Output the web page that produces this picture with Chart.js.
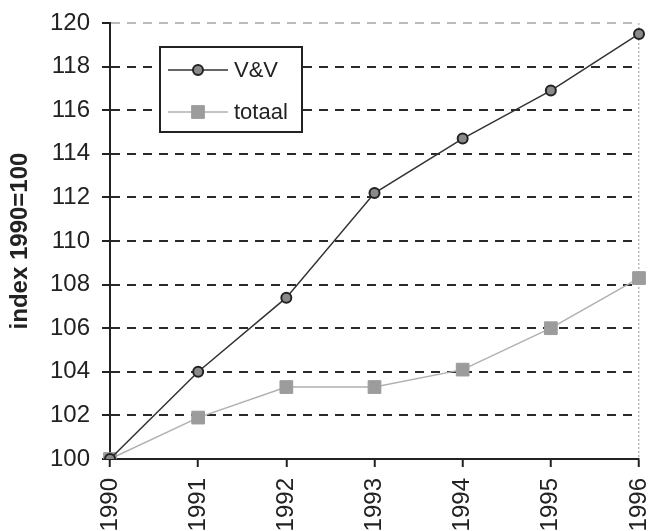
<!DOCTYPE html>
<html>
<head>
<meta charset="utf-8">
<script src="https://cdn.jsdelivr.net/npm/chart.js@4/dist/chart.umd.min.js"></script>
<style>
  body { margin: 0; background: #fff; }
  #wrap { width: 649px; height: 531px; position: relative; }
</style>
</head>
<body>
<div id="wrap"><canvas id="lineChart"></canvas></div>
<script>
// data
const years = ["1990", "1991", "1992", "1993", "1994", "1995", "1996"];
const vvValues = [100, 104.0, 107.4, 112.2, 114.7, 116.9, 119.5];
const totaalValues = [100, 101.9, 103.3, 103.3, 104.1, 106.0, 108.3];
const yTicks = [100, 102, 104, 106, 108, 110, 112, 114, 116, 118, 120];

const FONT = "'Liberation Sans', Arial, sans-serif";

// legend box drawn inside the plot, like the original
const boxLegend = {
  id: "boxLegend",
  afterDatasetsDraw(chart) {
    const ctx = chart.ctx;
    const area = chart.chartArea;
    const x = area.left + 50;
    const y = area.top + 24;
    const w = 142;
    const h = 85;
    ctx.save();
    ctx.fillStyle = "#fff";
    ctx.fillRect(x, y, w, h);
    ctx.lineWidth = 2;
    ctx.strokeStyle = "#222";
    ctx.strokeRect(x, y, w, h);

    chart.data.datasets.forEach(function (ds, i) {
      const rowY = y + 23 + i * 42;
      ctx.beginPath();
      ctx.lineWidth = ds.borderWidth;
      ctx.strokeStyle = ds.borderColor;
      ctx.moveTo(x + 8, rowY);
      ctx.lineTo(x + 68, rowY);
      ctx.stroke();
      ctx.fillStyle = ds.pointBackgroundColor;
      ctx.strokeStyle = ds.pointBorderColor;
      ctx.lineWidth = ds.pointBorderWidth;
      ctx.beginPath();
      if (ds.pointStyle === "rect") {
        const s = ds.pointRadius * Math.SQRT1_2;
        ctx.rect(x + 38 - s, rowY - s, 2 * s, 2 * s);
      } else {
        ctx.arc(x + 38, rowY, ds.pointRadius, 0, Math.PI * 2);
      }
      ctx.fill();
      ctx.stroke();
      ctx.fillStyle = "#222";
      ctx.font = "22px " + FONT;
      ctx.textBaseline = "middle";
      ctx.fillText(ds.label, x + 74, rowY + 1);
    });
    ctx.restore();
  }
};

const lineChart = new Chart("lineChart", {
  type: "line",
  data: {
    labels: years,
    datasets: [
      {
        label: "V&V",
        data: vvValues,
        borderColor: "#333",
        borderWidth: 1.5,
        pointStyle: "circle",
        pointRadius: 5,
        pointBackgroundColor: "#8a8a8a",
        pointBorderColor: "#222",
        pointBorderWidth: 2
      },
      {
        label: "totaal",
        data: totaalValues,
        borderColor: "#b0b0b0",
        borderWidth: 1.5,
        pointStyle: "rect",
        pointRadius: 9,
        pointBackgroundColor: "#9c9c9c",
        pointBorderColor: "#9c9c9c",
        pointBorderWidth: 1
      }
    ]
  },
  options: {
    responsive: true,
    maintainAspectRatio: false,
    animation: false,
    layout: { padding: { top: 23, right: 7, left: 0, bottom: 0 } },
    plugins: {
      legend: { display: false },
      tooltip: { enabled: false }
    },
    scales: {
      x: {
        offset: false,
        afterFit(scale) {
          scale.height = 72;
          scale.paddingLeft = 0;
          scale.paddingRight = 0;
        },
        grid: {
          drawOnChartArea: true,
          color: function (c) {
            return c.index === years.length - 1 ? "#bbb" : "rgba(0,0,0,0)";
          },
          tickColor: "#222",
          tickLength: 8,
          lineWidth: 1.5,
          tickWidth: 2
        },
        border: { display: true, color: "#222", width: 2, dash: [2, 2] },
        ticks: {
          color: "#222",
          font: { family: FONT, size: 24 },
          minRotation: 90,
          maxRotation: 90,
          padding: 11,
          autoSkip: false
        }
      },
      y: {
        min: 100,
        max: 120,
        afterFit(scale) {
          scale.width = 110;
          scale.paddingTop = 0;
          scale.paddingBottom = 0;
        },
        afterBuildTicks(scale) {
          scale.ticks = yTicks.map(function (v) { return { value: v }; });
        },
        grid: {
          color: function (c) {
            return c.tick && c.tick.value === 120 ? "#bbb" : "#2a2a2a";
          },
          lineWidth: 2,
          tickColor: "#222",
          tickLength: 8,
          tickWidth: 2
        },
        border: { display: true, color: "#222", width: 2, dash: [9, 7] },
        ticks: {
          color: "#222",
          font: { family: FONT, size: 24 },
          padding: 12
        },
        title: {
          display: true,
          text: "index 1990=100",
          color: "#222",
          font: { family: FONT, size: 24, weight: "bold" },
          padding: { top: 6, bottom: 0 }
        }
      }
    }
  },
  plugins: [boxLegend]
});
</script>
</body>
</html>
